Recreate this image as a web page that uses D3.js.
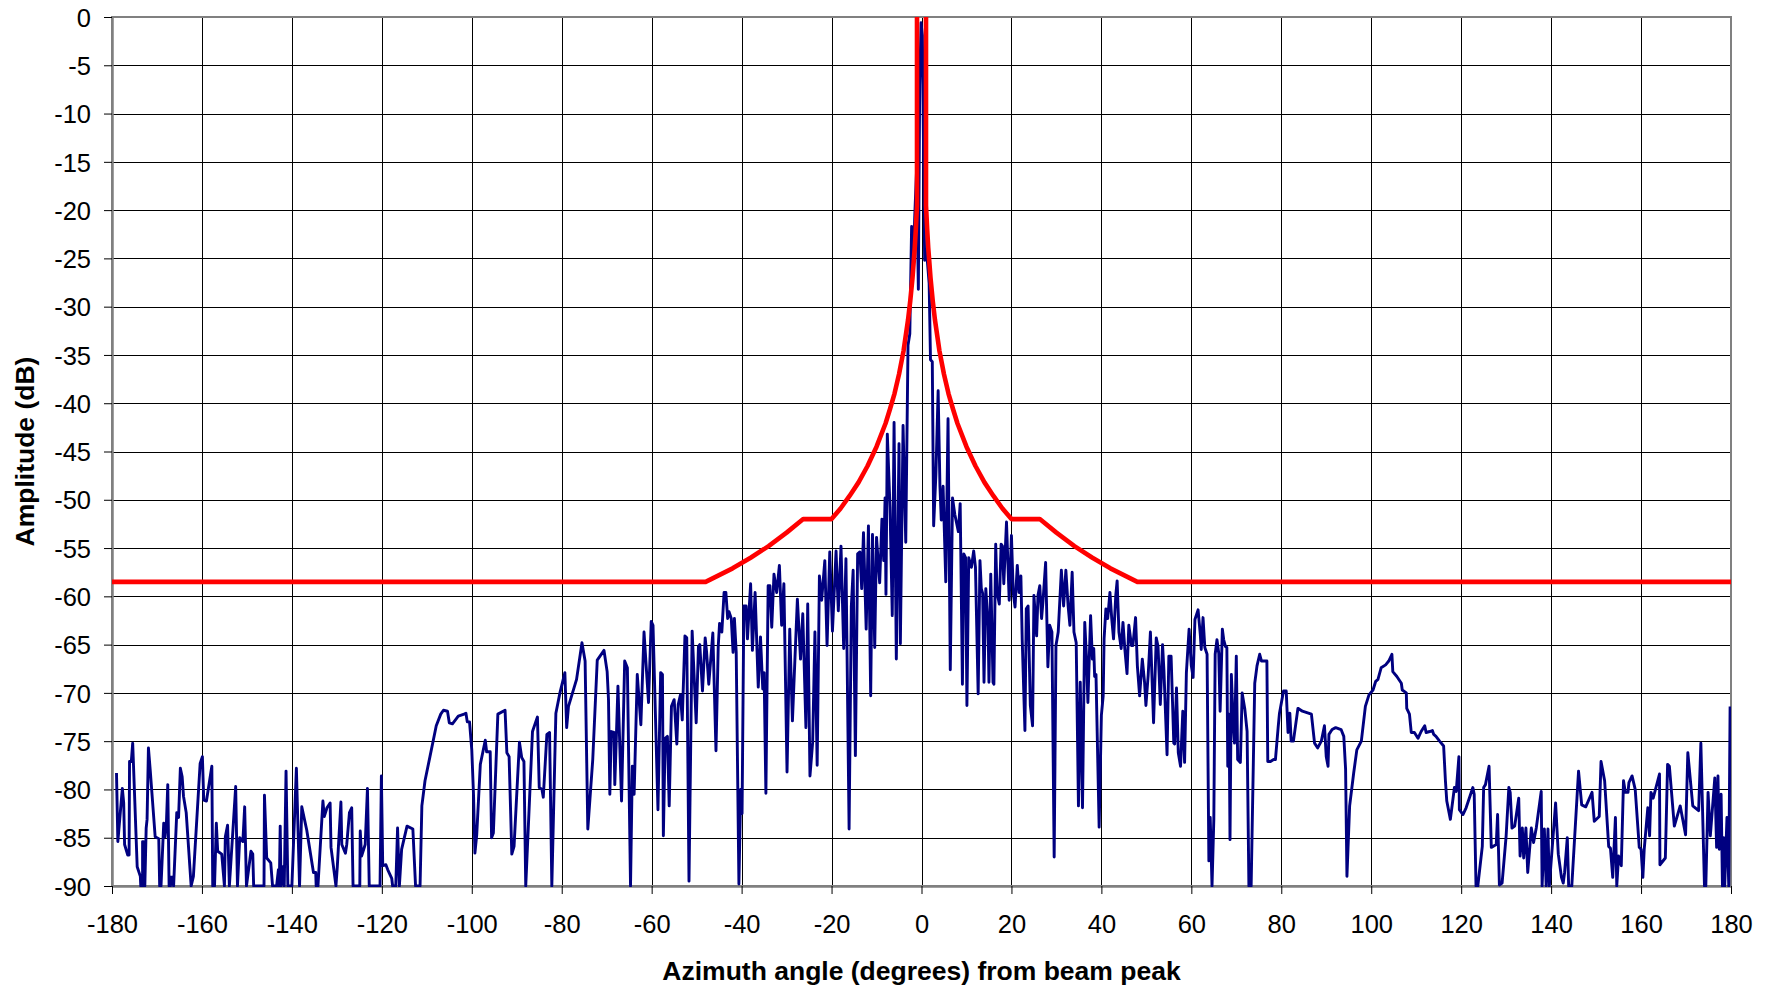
<!DOCTYPE html>
<html><head><meta charset="utf-8">
<script src="https://cdn.jsdelivr.net/npm/d3@7"></script>
<style>html,body{margin:0;padding:0;background:#fff;}svg{display:block;}</style>
</head><body>
<svg id="chart" width="1774" height="988"></svg>
<script>
const xTickValues = [-180,-160,-140,-120,-100,-80,-60,-40,-20,0,20,40,60,80,100,120,140,160,180];
const yTickValues = [0,-5,-10,-15,-20,-25,-30,-35,-40,-45,-50,-55,-60,-65,-70,-75,-80,-85,-90];
const xTitle = "Azimuth angle (degrees) from beam peak";
const yTitle = "Amplitude (dB)";

// Red mask envelope (angle, dB); null splits the left and right halves
const maskAngle = [-180,-48,-45,-42,-38,-34,-30,-26.3,-20,-18,-16,-14,-12,-10,-8,-7,-6,-5,-4,-3,-2.5,-2,-1.5,-1.25,-1,-1,
  null,
  1,1,1.25,1.5,2,2.5,3,4,5,6,7,8,10,12,14,16,18,20,26.3,30,34,38,42,45,48,180];
const maskDb = [-58.5,-58.5,-57.8,-57.1,-56.0,-54.8,-53.4,-52.0,-52.0,-50.9,-49.6,-48.2,-46.5,-44.5,-42.1,-40.6,-39.0,-37.0,-34.6,-31.4,-29.4,-27.0,-23.9,-21.9,-19.5,0,
  null,
  0,-19.5,-21.9,-23.9,-27.0,-29.4,-31.4,-34.6,-37.0,-39.0,-40.6,-42.1,-44.5,-46.5,-48.2,-49.6,-50.9,-52.0,-52.0,-53.4,-54.8,-56.0,-57.1,-57.8,-58.5,-58.5];

// Measured azimuth pattern, far-left sidelobes
const patternWest = [[-179.0,-78.3],[-178.7,-85.4],[-177.7,-79.9],[-177.4,-81.4],[-177.2,-85.7],[-176.5,-86.8],[-176.2,-86.8],[-176.1,-77.1],[-175.7,-77.1],[-175.4,-75.2],[-174.4,-88.0],[-173.7,-89.0],[-173.6,-90],[-173.2,-90],[-173.2,-85.4],[-173.0,-85.4],[-172.7,-90],[-172.4,-84.0],[-172.2,-83.1],[-171.9,-75.7],[-171.5,-78.0],[-170.4,-84.9],[-169.6,-85.1],[-169.4,-90],[-169.1,-90],[-168.5,-83.5],[-168.2,-84.9],[-167.9,-83.5],[-167.6,-79.5],[-167.3,-90],[-167.0,-90],[-166.9,-89.1],[-166.6,-89.1],[-166.3,-90],[-165.6,-82.4],[-165.2,-82.9],[-164.8,-77.8],[-164.4,-78.7],[-164.1,-80.7],[-163.5,-82.4],[-162.4,-90],[-161.9,-89.0],[-160.4,-77.3],[-159.9,-76.6],[-159.6,-81.1],[-159.0,-81.2],[-157.8,-77.6],[-157.6,-90],[-157.2,-90],[-156.8,-83.5],[-156.5,-86.4],[-155.6,-86.7],[-155.0,-90],[-154.8,-84.9],[-154.3,-83.7],[-153.9,-90],[-152.5,-79.7],[-152.1,-90],[-151.6,-85.0],[-150.9,-85.4],[-150.5,-81.8],[-150.1,-90],[-149.1,-86.4],[-148.7,-86.7],[-148.5,-90],[-146.2,-90],[-146.1,-80.6],[-145.6,-87.1],[-144.7,-87.6],[-144.3,-90],[-143.4,-90],[-143.0,-88.3],[-142.8,-90],[-142.6,-83.8],[-142.4,-90],[-142.0,-88.0],[-141.7,-90],[-141.3,-78.1],[-140.9,-90],[-140.0,-90],[-139.0,-77.8],[-138.3,-90],[-137.8,-81.8],[-136.7,-84.2],
[-135.2,-88.6],[-134.7,-88.6],[-134.6,-90],[-134.2,-90],[-133.1,-81.2],[-132.8,-82.8],[-132.2,-81.9],[-131.5,-81.4],[-131.3,-86.0],[-130.2,-90],[-129.9,-88.0],[-129.1,-81.3],[-128.9,-85.7],[-128.1,-86.6],[-127.8,-85.7],[-127.2,-82.4],[-126.7,-81.9],[-126.4,-90],[-124.9,-90],[-124.8,-84.3],[-124.5,-86.9],[-123.7,-85.7],[-123.2,-79.9],[-122.8,-90],[-120.4,-90],[-120.1,-78.6],[-119.8,-87.9],[-119.1,-87.8],[-118.7,-88.3],[-117.8,-89.2],[-117.6,-90],[-116.9,-90],[-116.5,-84.0],[-116.1,-90],[-115.6,-86.2],[-114.4,-83.8],[-113.1,-84.1],[-112.5,-90],[-111.5,-90],[-111.1,-81.7],[-110.4,-79.1],[-109.3,-76.6],[-108.6,-75.0],[-107.9,-73.4],[-106.9,-72.2],[-106.3,-71.8],[-105.4,-71.9],[-105.0,-73.1],[-104.3,-73.2],[-103.0,-72.4],[-101.7,-72.2],[-101.3,-72.1],[-101.0,-73.0],[-100.5,-73.0],[-100.0,-75.9],[-99.6,-80.7],[-99.3,-86.6],[-98.9,-84.7],[-98.1,-77.4],[-97.0,-74.9],[-96.7,-76.1],[-95.9,-76.1],[-95.6,-85.0],[-95.2,-84.5],[-94.2,-72.2],[-92.6,-71.8],[-92.2,-76.2],[-91.7,-76.6],[-91.1,-86.7],[-90.6,-85.9],[-89.4,-75.1]];

// Near-left sidelobes
const patternNearWest = [[-88.9,-76.7],[-88.4,-77.1],[-88.0,-90],[-86.5,-74.0],[-85.4,-72.5],[-85.0,-79.8],[-84.4,-80.0],[-84.1,-80.8],[-83.3,-74.3],[-82.7,-74.1],[-82.2,-90],[-81.3,-72.1],[-80.4,-70.0],[-79.3,-67.9],[-78.9,-73.6],[-78.5,-71.4],[-76.7,-68.6],[-75.5,-64.8],[-74.8,-66.7],[-74.2,-84.1],[-73.1,-76.9],[-72.1,-66.6],[-70.6,-65.6],[-69.9,-67.8],[-69.6,-70.7],[-69.3,-80.5],[-69.0,-74.0],[-68.4,-74.1],[-68.2,-79.5],[-67.8,-73.8],[-67.5,-69.3],[-66.7,-81.2],[-66.0,-66.7],[-65.4,-67.4],[-64.7,-90],[-64.3,-77.6],[-63.9,-80.5],[-63.2,-68.1],[-62.4,-73.3],[-61.7,-63.7],[-60.7,-71.0],[-60.1,-62.6],[-59.7,-63.0],[-58.6,-82.1],[-58.0,-67.9],[-57.6,-68.1],[-57.4,-84.8],[-57.0,-74.7],[-56.5,-74.5],[-56.1,-81.7],[-55.6,-71.4],[-55.0,-70.7],[-54.4,-75.3],[-54.1,-71.2],[-53.6,-70.2],[-53.2,-72.8],[-52.6,-64.1],[-52.2,-64.3],[-51.7,-89.5],[-51.0,-63.6],[-50.1,-73.1],[-49.6,-65.2],[-49.3,-65.0],[-48.7,-69.8],[-48.1,-64.3],[-47.8,-65.7],[-47.3,-69.1],[-46.4,-63.8],[-45.7,-76.0],[-45.2,-65.2],[-44.9,-62.8],
[-44.4,-63.7],[-43.9,-59.6],[-43.5,-59.6],[-43.1,-62.3],[-42.8,-61.6],[-42.3,-62.3],[-41.9,-65.8],[-41.6,-62.3],[-41.2,-65.8],[-40.6,-89.8],[-40.2,-80.0],[-39.9,-82.5],[-39.5,-61.0],[-39.0,-61.0],[-38.7,-64.4],[-38.0,-58.7],[-37.6,-65.6],[-37.0,-59.6],[-36.3,-69.4],[-35.8,-64.2],[-35.3,-69.6],[-35.0,-67.9],[-34.6,-80.4],[-34.1,-58.9],[-33.7,-58.9],[-33.3,-63.2],[-32.8,-57.7],[-32.2,-59.6],[-31.6,-56.8],[-31.1,-63.0],[-30.6,-58.7],[-29.9,-78.2],[-29.3,-63.4],[-28.7,-72.9],[-28.1,-66.0],[-27.6,-60.3],[-26.9,-66.5],[-26.4,-61.8],[-25.7,-73.6],[-25.3,-60.8],[-24.8,-78.6],[-24.2,-75.1],[-23.7,-63.7],[-23.2,-77.5],[-22.7,-57.9],[-22.2,-60.4],[-21.5,-56.3],[-21.0,-65.1],[-20.4,-55.4],[-19.8,-63.6],[-19.0,-55.3],[-18.5,-61.5],[-17.9,-54.8],[-17.3,-65.4],[-16.8,-56.1],[-16.1,-84.1],[-15.6,-61.0],[-15.2,-57.3],[-14.7,-76.5],[-14.2,-55.6],[-13.7,-55.4],[-13.3,-59.2],[-12.9,-53.4],[-12.3,-63.4],[-11.8,-52.7],[-11.3,-70.3],[-10.9,-53.6],[-10.4,-65.3],[-10.0,-53.9],[-9.3,-58.6],[-8.8,-52.0],[-8.4,-56.3],[-8.1,-49.8],[-7.9,-59.8],[-7.6,-43.2],[-7.0,-50.8],[-6.5,-62.0],[-6.1,-42.0],[-5.6,-66.5],[-5.0,-44.2],[-4.7,-64.9],[-4.1,-42.3],[-3.5,-54.4]];

// Main beam
const patternMainBeam = [[-3.0,-34.0],[-2.6,-32.8],[-2.2,-21.7],[-1.9,-26.4],[-1.5,-20.6],[-1.1,-15.9],[-0.7,-28.2],[-0.4,-7.1],[-0.1,-0.6],[0.2,-1.9],[0.5,-15.9],[0.7,-25.2],[1.1,-24.1],[1.7,-27.6],[2.0,-35.5],[2.4,-35.7],[2.7,-52.7],[3.2,-47.4],[3.7,-38.7],[4.1,-48.6],[4.4,-52.1],[4.8,-48.6],[5.4,-58.5],[5.9,-41.6],[6.4,-67.6],[6.9,-49.8],[7.4,-51.5],[8.2,-53.3]];

// Near-right sidelobes
const patternNearEast = [[8.6,-50.4],[9.1,-69.1],[9.4,-55.6],[9.8,-56.0],[10.1,-71.3],[10.5,-56.0],[11.1,-57.0],[11.6,-55.3],[12.0,-57.0],[12.6,-70.1],[13.0,-56.3],[13.3,-59.2],[13.6,-59.7],[13.9,-68.9],[14.3,-59.2],[14.8,-63.0],[15.0,-68.9],[15.4,-57.7],[15.9,-68.9],[16.1,-69.1],[16.5,-54.6],[16.8,-59.6],[17.3,-60.8],[17.7,-54.6],[18.0,-54.8],[18.3,-58.7],[18.9,-52.3],[19.5,-60.4],[20.0,-53.7],[20.4,-59.6],[20.8,-61.1],[21.3,-56.8],[21.7,-59.6],[22.1,-57.9],[22.4,-64.6],[23.0,-73.9],[23.3,-61.3],[23.7,-61.0],[24.2,-71.3],[24.7,-73.4],[25.0,-59.9],[25.6,-64.1],[25.9,-59.9],[26.3,-58.9],[26.7,-62.3],[27.0,-60.6],[27.6,-56.5],[28.1,-67.3],[28.5,-63.0],[29.0,-63.7],[29.5,-87.0],[29.9,-65.1],[30.4,-63.7],[31.1,-57.3],[31.6,-61.0],[32.1,-57.3],[32.6,-61.0],[33.0,-63.0],[33.5,-57.5],[33.9,-63.7],[34.4,-64.8],[34.9,-81.7],[35.3,-68.9],[35.8,-81.9],[36.3,-62.7],[36.7,-66.5],[37.0,-71.0],[37.6,-62.0],[38.0,-66.5],[38.3,-65.4],[38.5,-68.3],[38.8,-68.1],[39.5,-83.9],[40.0,-72.3],[40.4,-70.3],[40.6,-64.4],[41.0,-61.3],[41.4,-62.3],[41.9,-59.6],[42.3,-62.3],[42.7,-64.4],[43.2,-59.9],[43.5,-58.4],[43.9,-63.7],[44.4,-65.4],[44.8,-62.7],[45.2,-65.4],[45.7,-68.0],[46.1,-63.0],[46.7,-65.1],[47.0,-65.1],[47.6,-62.2],[48.0,-67.2],[48.5,-70.3],[49.1,-66.5],[49.6,-68.9],[49.9,-71.3],[50.4,-68.2],[50.9,-63.7],
[51.6,-73.1],[52.2,-64.3],[52.6,-65.2],[53.1,-71.2],[53.6,-65.0],[53.9,-67.6],[54.6,-76.4],[55.0,-66.2],[55.5,-66.2],[56.1,-75.2],[56.3,-75.3],[56.7,-69.5],[57.1,-76.2],[57.6,-77.6],[58.1,-71.9],[58.5,-77.2],[58.9,-67.9],[59.5,-63.4],[60.0,-67.2],[60.4,-68.4],[60.8,-62.4],[61.5,-61.4],[62.0,-64.0],[62.2,-65.5],[62.6,-62.2],[63.0,-65.3],[63.5,-66.0],[63.9,-87.4],[64.2,-82.9],[64.6,-90],[65.0,-83.1],[65.3,-66.0],[65.7,-64.5],[65.9,-65.2],[66.1,-65.9],[66.4,-71.9],[66.9,-63.4],[67.2,-64.5],[67.6,-65.2],[67.9,-65.3],[68.1,-77.6],[68.4,-72.2],[68.6,-85.2],[68.9,-68.1],[69.3,-73.1],[69.6,-75.2],[70.0,-66.2],[70.3,-76.9],[70.9,-77.2],[71.3,-70.0],[71.9,-71.7],[72.4,-74.0],[72.8,-90],[73.3,-90],[74.1,-69.0],[74.6,-67.2],[75.2,-66.0],[75.6,-66.7],[76.5,-66.7],[76.8,-66.7],[77.0,-77.1],[77.6,-77.1],[78.3,-76.9],[78.7,-76.9],[79.3,-73.6],[79.6,-72.1],[80.5,-69.8],[81.1,-69.8],[81.5,-74.1],[81.9,-72.1],[82.2,-75.0],[82.7,-75.0],[83.7,-71.6],[84.7,-71.9],[86.7,-72.2],[87.4,-75.2],[88.1,-75.7],[88.9,-75.0],[89.6,-73.4],[90.0,-76.6],[90.4,-77.6],[90.6,-74.3],[91.3,-73.8],[92.1,-73.6],[93.3,-73.8],[93.9,-74.5],[94.3,-77.9],[94.6,-89.0],[95.2,-81.7],[96.1,-78.3],[96.8,-75.9],[97.8,-75.0]];

// Far-right sidelobes
const patternEast = [[98.7,-71.4],[99.5,-70.2],[100.4,-69.7],[101.0,-68.8],[101.5,-68.6],[102.2,-67.4],[103.2,-67.1],[103.9,-66.7],[104.6,-66.0],[104.8,-67.8],[105.7,-68.3],[106.7,-69.0],[106.9,-69.7],[107.8,-70.0],[107.9,-71.6],[108.5,-72.2],[108.9,-74.1],[109.6,-74.1],[110.4,-74.7],[111.1,-74.0],[111.9,-73.4],[112.2,-74.1],[113.0,-74.0],[113.6,-73.9],[113.9,-74.3],[114.4,-74.5],[115.2,-75.0],[116.1,-75.5],[116.5,-79.1],[116.8,-81.2],[117.6,-83.1],[118.5,-79.8],[118.9,-80.2],[119.5,-76.6],[119.6,-82.1],[120.4,-82.6],[121.1,-81.9],[122.6,-79.8],[122.9,-80.5],[123.3,-90],[123.7,-90],[124.7,-85.9],[125.0,-79.8],[125.4,-79.5],[126.2,-77.6],[126.7,-86.0],[127.8,-85.7],[128.1,-82.6],[128.5,-89.9],[129.1,-89.7],[130.0,-84.8],[130.6,-79.8],[130.9,-80.3],[131.3,-84.0],[131.9,-83.8],[132.8,-80.9],[133.1,-86.9],[133.6,-84.0],[133.9,-87.1],[134.4,-84.0],[134.8,-88.6],[135.6,-84.0],[136.1,-85.5],[136.7,-84.0],[137.8,-80.2],[138.0,-90],[138.5,-84.1],[138.9,-90],[139.3,-84.1],[139.6,-90],[141.0,-81.4],[141.6,-86.7],
[142.3,-89.1],[142.7,-89.7],[143.0,-88.6],[143.6,-85.0],[143.9,-90],[144.6,-90],[146.1,-78.1],[146.8,-81.6],[147.7,-81.8],[149.1,-80.3],[149.6,-83.3],[150.7,-82.8],[151.1,-77.1],[151.9,-79.1],[152.8,-85.9],[153.2,-86.1],[153.7,-89.1],[154.3,-82.9],[154.6,-90],[155.0,-86.9],[155.6,-87.9],[156.1,-79.1],[156.5,-80.3],[157.1,-80.3],[157.3,-79.3],[158.0,-78.6],[158.7,-80.0],[159.6,-86.0],[160.0,-86.2],[160.4,-89.1],[160.7,-86.2],[161.5,-81.9],[161.9,-84.8],[162.2,-80.3],[162.7,-80.9],[164.1,-78.4],[164.2,-87.8],[165.4,-87.1],[165.9,-77.4],[166.3,-77.6],[167.4,-83.8],[168.7,-81.7],[169.9,-84.7],[170.4,-76.2],[171.5,-81.7],[172.8,-82.2],[173.3,-75.2],[174.1,-90],[174.4,-90],[174.9,-80.3],[175.4,-84.8],[176.4,-78.8],[176.8,-86.0],[177.1,-78.6],[177.4,-86.2],[177.8,-80.5],[178.1,-90],[178.4,-85.0],[178.6,-90],[179.1,-82.9],[179.5,-90],[179.8,-71.4]];

const pattern = [].concat(patternWest, patternNearWest, patternMainBeam, patternNearEast, patternEast);
const mask = maskAngle.map((a, i) => [a, maskDb[i]]);

const svg = d3.select("#chart");
const plot = {left:112, right:1731, top:17, bottom:886};
const x = d3.scaleLinear().domain([-180,180]).range([plot.left, plot.right]);
const y = d3.scaleLinear().domain([-90,0]).range([plot.bottom, plot.top]);
const crisp = v => Math.round(v) + 0.5;

svg.append("rect").attr("width",1774).attr("height",988).attr("fill","#fff");

// gridlines
const grid = svg.append("g");
grid.selectAll(".hg").data(yTickValues.filter(v => v !== 0 && v !== -90)).join("line")
  .attr("x1", plot.left).attr("x2", plot.right)
  .attr("y1", d => crisp(y(d))).attr("y2", d => crisp(y(d)))
  .attr("stroke","#000").attr("stroke-width",1);
grid.selectAll(".vg").data(xTickValues.filter(v => v !== -180 && v !== 180)).join("line")
  .attr("y1", plot.top).attr("y2", plot.bottom)
  .attr("x1", d => crisp(x(d))).attr("x2", d => crisp(x(d)))
  .attr("stroke","#000").attr("stroke-width",1);

// plot frame (top/right)
svg.append("rect").attr("x", plot.left).attr("y", plot.top)
  .attr("width", plot.right - plot.left).attr("height", plot.bottom - plot.top)
  .attr("fill","none").attr("stroke","#808080").attr("stroke-width",2);

// axes
const fontFam = "'Liberation Sans', Arial, Helvetica, sans-serif";
const yAxis = svg.append("g").attr("transform", `translate(${plot.left},0)`)
  .call(d3.axisLeft(y).tickValues(yTickValues).tickSize(8).tickSizeOuter(0).tickPadding(13).tickFormat(d => String(d)));
const xAxis = svg.append("g").attr("transform", `translate(0,${plot.bottom})`)
  .call(d3.axisBottom(x).tickValues(xTickValues).tickSize(8).tickSizeOuter(0).tickPadding(21).tickFormat(d => String(d)));
[yAxis, xAxis].forEach(g => {
  g.select(".domain").attr("stroke","#808080").attr("stroke-width",2.5);
  g.selectAll(".tick line").attr("stroke","#000").attr("stroke-width",1);
  g.selectAll(".tick text").attr("fill","#000").style("font-family", fontFam).style("font-size","25.5px");
});
yAxis.selectAll(".tick text").attr("dy","0.36em");

// clip
svg.append("clipPath").attr("id","clip").append("rect")
  .attr("x", plot.left).attr("y", plot.top - 1).attr("width", plot.right - plot.left).attr("height", plot.bottom - plot.top + 2);

const line = d3.line().x(d => x(d[0])).y(d => y(d[1]));
svg.append("path").datum(pattern).attr("clip-path","url(#clip)")
  .attr("d", line).attr("fill","none").attr("stroke","#000080").attr("stroke-width",2.9).attr("stroke-linejoin","round");

const maskLine = d3.line().defined(d => d[0] !== null).x(d => x(d[0])).y(d => y(d[1]));
svg.append("path").datum(mask).attr("clip-path","url(#clip)")
  .attr("d", maskLine).attr("fill","none").attr("stroke","#ff0000").attr("stroke-width",4.6).attr("stroke-linejoin","round");

// titles
svg.append("text").attr("x", (plot.left + plot.right) / 2).attr("y", 980)
  .attr("text-anchor","middle").style("font-family", fontFam).style("font-size","26.5px").style("font-weight","bold")
  .text(xTitle);
svg.append("text").attr("transform", `translate(34,${(plot.top + plot.bottom) / 2}) rotate(-90)`)
  .attr("text-anchor","middle").style("font-family", fontFam).style("font-size","26.5px").style("font-weight","bold")
  .text(yTitle);
</script>
</body></html>
